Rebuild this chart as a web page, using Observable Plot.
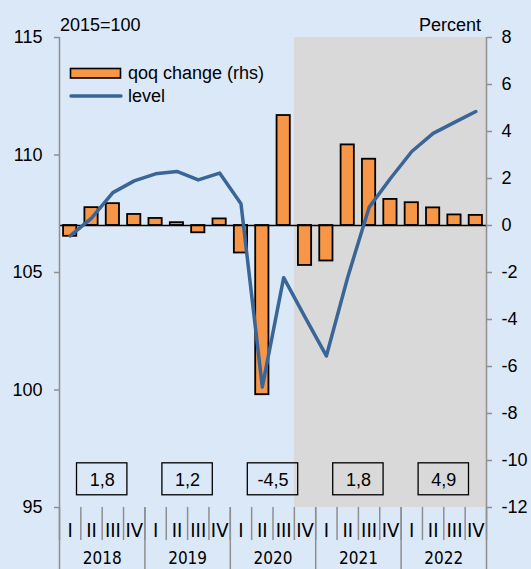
<!DOCTYPE html>
<html><head><meta charset="utf-8">
<script src="https://cdn.jsdelivr.net/npm/d3@7"></script>
<script src="https://cdn.jsdelivr.net/npm/@observablehq/plot@0.6"></script>
<style>
html,body{margin:0;padding:0;background:#dbe8f8;}
#chart{width:531px;height:569px;overflow:hidden;}
</style></head><body><div id="chart"></div>
<script>
// ---- data ----
const years = [2018, 2019, 2020, 2021, 2022];
const quarterNames = ["I", "II", "III", "IV"];
const qoqChange = [-0.46, 0.76, 0.93, 0.47, 0.30, 0.12, -0.31, 0.28, -1.17, -7.20, 4.68, -1.70, -1.51, 3.43, 2.82, 1.11, 0.97, 0.75, 0.45, 0.43];
const level = [106.56, 107.31, 108.40, 108.90, 109.20, 109.30, 108.94, 109.23, 107.93, 100.13, 104.78, 103.10, 101.45, 104.80, 107.77, 109.00, 110.15, 110.92, 111.39, 111.85];
const annualGrowth = [1.8, 1.2, -4.5, 1.8, 4.9];
const leftTicks = [95, 100, 105, 110, 115];
const rightTicks = [-12, -10, -8, -6, -4, -2, 0, 2, 4, 6, 8];
const shadeFrom = "2020 IV";
const legendLabels = ["qoq change (rhs)", "level"];
const leftTitle = "2015=100";
const rightTitle = "Percent";

// ---- derived ----
const leftDomain = [leftTicks[0], leftTicks[leftTicks.length - 1]];
const rightDomain = [rightTicks[0], rightTicks[rightTicks.length - 1]];
const offset = leftDomain[0] - rightDomain[0]; // level -> rhs units
const rows = qoqChange.map((v, i) => ({i, year: years[Math.floor(i / 4)], q: quarterNames[i % 4], change: v, level: level[i]}));
const nQ = rows.length;
const shadeIdx = rows.findIndex(r => `${r.year} ${r.q}` === shadeFrom);
const annualRows = annualGrowth.map((g, k) => ({k, g}));
const fmt = v => d3.format(".1f")(v).replace(".", ",").replace("−", "-");

const BLUE = "#3a6597", ORANGE = "#f79646", GRAY = "#8f8f8f";
const narrow = "'Liberation Sans Narrow', 'Arial Narrow', 'DejaVu Sans Condensed', sans-serif";

const svg = Plot.plot({
  width: 531, height: 569,
  marginLeft: 59, marginRight: 45, marginTop: 37, marginBottom: 62,
  style: {background: "#dbe8f8", fontFamily: "'Liberation Sans', Arial, sans-serif", fontSize: "18px", color: "black", overflow: "visible"},
  x: {domain: [0, nQ], label: null},
  y: {domain: rightDomain, label: null},
  marks: [
    Plot.rect([{a: shadeIdx, b: nQ}], {x1: "a", x2: "b", y1: rightDomain[0], y2: rightDomain[1], fill: "#d9d9d9"}),
    Plot.rectY(rows, {x1: d => d.i + 0.19, x2: d => d.i + 0.81, y1: 0, y2: "change", fill: ORANGE, stroke: "black", strokeWidth: 1.8}),
    Plot.ruleY([0], {stroke: "black", strokeWidth: 1.5}),
    Plot.line(rows, {x: d => d.i + 0.5, y: d => d.level - offset, stroke: BLUE, strokeWidth: 3.5, strokeLinejoin: "round", strokeLinecap: "round"}),
    Plot.rect(annualRows, {x1: d => d.k * 4 + 2 - 1.18, x2: d => d.k * 4 + 2 + 1.18, y1: -11.48, y2: -10.12, fill: "none", stroke: "black", strokeWidth: 1.3}),
    Plot.text(annualRows, {x: d => d.k * 4 + 2, y: -10.82, text: d => fmt(d.g), fontSize: 18, fill: "black"}),
    Plot.ruleX([0, nQ], {stroke: GRAY, strokeWidth: 1.5}),
    Plot.axisY(leftTicks.map(v => v - offset), {anchor: "left", tickSize: 5, tickPadding: 12, tickFormat: d => String(d + offset), stroke: GRAY, strokeWidth: 1.5, fill: "black"}),
    Plot.axisY(rightTicks, {anchor: "right", tickSize: 5, tickPadding: 10, tickFormat: d => String(d), stroke: GRAY, strokeWidth: 1.5, fill: "black"}),
    Plot.axisX(d3.range(0, nQ + 1), {anchor: "bottom", tickSize: 33, tickFormat: () => "", stroke: GRAY, strokeWidth: 1.5}),
    Plot.axisX(d3.range(0, nQ + 1, 4), {anchor: "bottom", tickSize: 62, tickFormat: () => "", stroke: GRAY, strokeWidth: 1.5}),
    Plot.axisX(rows.map(r => r.i + 0.5), {anchor: "bottom", tickSize: 0, tickPadding: 15, tickFormat: x => quarterNames[Math.floor(x) % 4], fontFamily: narrow, fontSize: 20, fill: "black"}),
    Plot.axisX(years.map((_, k) => k * 4 + 2), {anchor: "bottom", tickSize: 0, tickPadding: 44, tickFormat: x => String(years[(x - 2) / 4]), fontFamily: narrow, fontSize: 17, fill: "black"})
  ]
});

const s = d3.select(svg);
const g = s.append("g").attr("font-family", "'Liberation Sans', Arial, sans-serif").attr("font-size", 18).attr("fill", "black").attr("text-anchor", "start");
g.append("text").attr("x", 60).attr("y", 30.5).attr("text-anchor", "start").text(leftTitle);
g.append("text").attr("x", 481).attr("y", 30.5).attr("text-anchor", "end").text(rightTitle);
g.append("rect").attr("x", 70.5).attr("y", 68.5).attr("width", 50).attr("height", 9.5).attr("fill", ORANGE).attr("stroke", "black").attr("stroke-width", 1.6);
g.append("text").attr("x", 128).attr("y", 78.5).attr("text-anchor", "start").text(legendLabels[0]);
g.append("line").attr("x1", 71).attr("x2", 121).attr("y1", 96).attr("y2", 96).attr("stroke", BLUE).attr("stroke-width", 3.5).attr("stroke-linecap", "round");
g.append("text").attr("x", 128).attr("y", 101.5).attr("text-anchor", "start").text(legendLabels[1]);

document.getElementById("chart").appendChild(svg);
</script></body></html>
